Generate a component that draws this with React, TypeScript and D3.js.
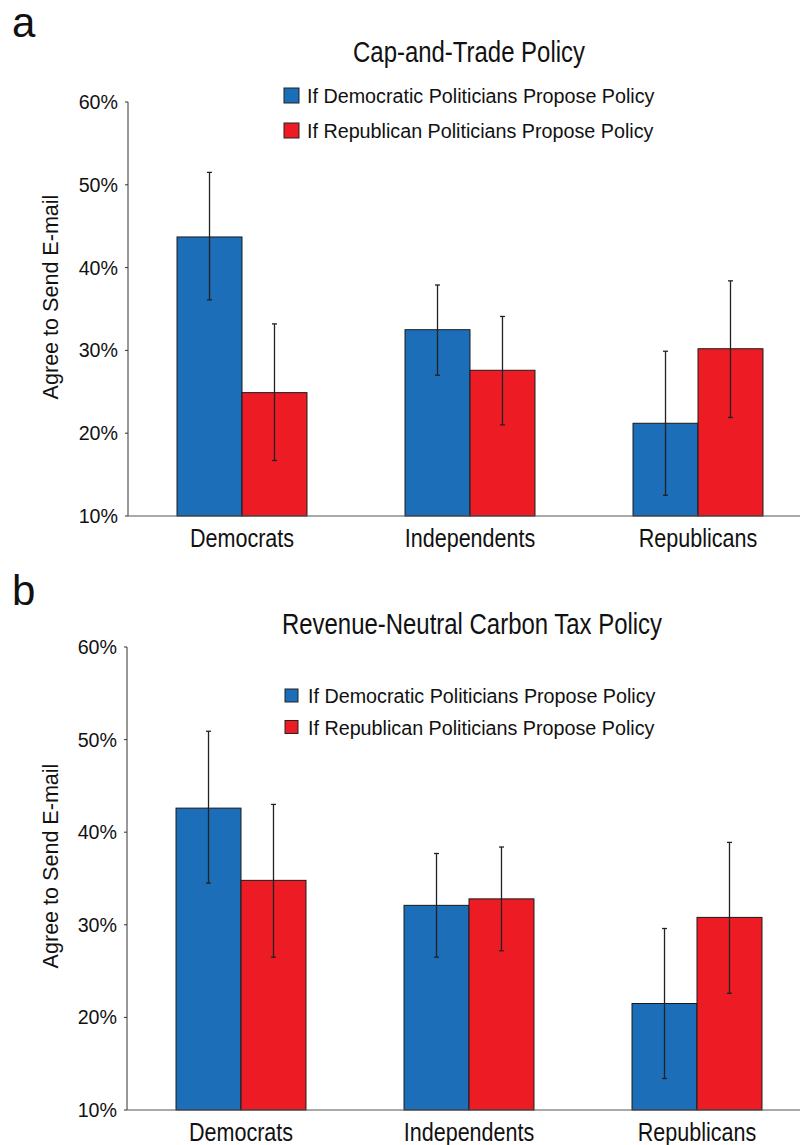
import React, { useEffect, useRef } from 'react';
import * as d3 from 'd3';

const groups = ['Democrats', 'Independents', 'Republicans'];
const conditions = ['If Democratic Politicians Propose Policy', 'If Republican Politicians Propose Policy'];
const colors = ['#1b6eb7', '#ed1c24'];
const yTicks = [10, 20, 30, 40, 50, 60];

// panel a: cap-and-trade
const capDemMean = [43.7, 32.5, 21.2];
const capDemLow = [36.1, 27.0, 12.5];
const capDemHigh = [51.5, 37.9, 29.9];
const capRepMean = [24.9, 27.6, 30.2];
const capRepLow = [16.7, 21.0, 21.9];
const capRepHigh = [33.2, 34.1, 38.4];

// panel b: revenue-neutral carbon tax
const taxDemMean = [42.6, 32.1, 21.5];
const taxDemLow = [34.5, 26.5, 13.4];
const taxDemHigh = [50.9, 37.7, 29.6];
const taxRepMean = [34.8, 32.8, 30.8];
const taxRepLow = [26.5, 27.2, 22.6];
const taxRepHigh = [43.0, 38.4, 38.9];

const FONT = '"Liberation Sans", Arial, Helvetica, sans-serif';

// text squeezed horizontally, the original uses a condensed face
function label(g, x, y, s, size, sx, anchor = 'start', extra = '') {
  return g.append('text')
    .attr('transform', `translate(${x}, ${y}) ${extra} scale(${sx}, 1)`)
    .attr('text-anchor', anchor)
    .attr('font-family', FONT)
    .attr('font-size', size)
    .attr('fill', '#111')
    .text(s);
}

function drawPanel(svg, p) {
  const g = svg.append('g');
  const y = d3.scaleLinear().domain([10, 60]).range([p.bottom, p.top]);
  const x = d3.scaleBand().domain(groups).range([p.left, p.left + 684]).paddingInner(0.43).paddingOuter(0.215);
  const xs = d3.scaleBand().domain(['0', '1']).range([0, x.bandwidth()]);

  label(g, 12, p.letterY, p.letter, 42, 1);
  label(g, p.titleX, p.titleY, p.title, 29, 0.826, 'middle');

  // legend
  conditions.forEach((c, i) => {
    g.append('rect')
      .attr('x', p.legX).attr('y', p.legY + i * p.legStep)
      .attr('width', p.legBox).attr('height', p.legBox)
      .attr('fill', colors[i]).attr('stroke', '#222').attr('stroke-width', 1);
    label(g, p.legX + 23, p.legY + i * p.legStep + p.legBox / 2 + 7.5, c, 21, 0.94);
  });

  // bars
  const series = [
    { mean: p.dem, lo: p.demLo, hi: p.demHi },
    { mean: p.rep, lo: p.repLo, hi: p.repHi }
  ];
  series.forEach((s, si) => {
    g.selectAll('.bar' + si)
      .data(groups)
      .enter()
      .append('rect')
      .attr('x', (d) => x(d) + xs(String(si)))
      .attr('y', (d, i) => y(s.mean[i]))
      .attr('width', xs.bandwidth())
      .attr('height', (d, i) => y(10) - y(s.mean[i]))
      .attr('fill', colors[si])
      .attr('stroke', '#1a1a1a')
      .attr('stroke-width', 1);
  });

  // error bars
  series.forEach((s, si) => {
    groups.forEach((d, i) => {
      const cx = x(d) + xs(String(si)) + xs.bandwidth() / 2;
      g.append('line')
        .attr('x1', cx).attr('x2', cx)
        .attr('y1', y(s.lo[i])).attr('y2', y(s.hi[i]))
        .attr('stroke', '#222').attr('stroke-width', 1.3);
      [s.lo[i], s.hi[i]].forEach((v) => {
        g.append('line')
          .attr('x1', cx - 2.5).attr('x2', cx + 2.5)
          .attr('y1', y(v)).attr('y2', y(v))
          .attr('stroke', '#222').attr('stroke-width', 1.3);
      });
    });
  });

  // y axis
  g.append('line')
    .attr('x1', p.left).attr('x2', p.left)
    .attr('y1', y(60)).attr('y2', y(10))
    .attr('stroke', '#333').attr('stroke-width', 1);
  yTicks.forEach((t) => {
    g.append('line')
      .attr('x1', p.left - 3).attr('x2', p.left)
      .attr('y1', y(t)).attr('y2', y(t))
      .attr('stroke', '#333').attr('stroke-width', 1);
    label(g, p.left - 10, y(t) + 7, t + '%', 20.5, 0.96, 'end');
  });

  // x axis
  g.append('line')
    .attr('x1', p.left).attr('x2', 800)
    .attr('y1', y(10)).attr('y2', y(10))
    .attr('stroke', '#555').attr('stroke-width', 1.2);
  groups.forEach((d) => {
    label(g, x(d) + x.bandwidth() / 2, y(10) + 31, d, 25.5, 0.845, 'middle');
  });

  // y label
  label(g, 58, p.yLabelY, 'Agree to Send E-mail', 22, 0.98, 'middle', 'rotate(-90)');
}

export default function App() {
  const ref = useRef(null);

  useEffect(() => {
    const svg = d3.select(ref.current);
    svg.selectAll('*').remove();

    drawPanel(svg, {
      letter: 'a', letterY: 37,
      title: 'Cap-and-Trade Policy', titleX: 469, titleY: 62,
      legX: 284, legY: 88, legBox: 15, legStep: 35,
      top: 102, bottom: 516, left: 128,
      dem: capDemMean, demLo: capDemLow, demHi: capDemHigh,
      rep: capRepMean, repLo: capRepLow, repHi: capRepHigh,
      yLabelY: 297
    });

    drawPanel(svg, {
      letter: 'b', letterY: 605,
      title: 'Revenue-Neutral Carbon Tax Policy', titleX: 472, titleY: 634,
      legX: 285, legY: 689, legBox: 13, legStep: 31.5,
      top: 647, bottom: 1110, left: 127,
      dem: taxDemMean, demLo: taxDemLow, demHi: taxDemHigh,
      rep: taxRepMean, repLo: taxRepLow, repHi: taxRepHigh,
      yLabelY: 866
    });
  }, []);

  return (
    <svg
      ref={ref}
      width={800}
      height={1145}
      style={{ position: 'absolute', left: 0, top: 0, background: '#fff', display: 'block' }}
    />
  );
}
